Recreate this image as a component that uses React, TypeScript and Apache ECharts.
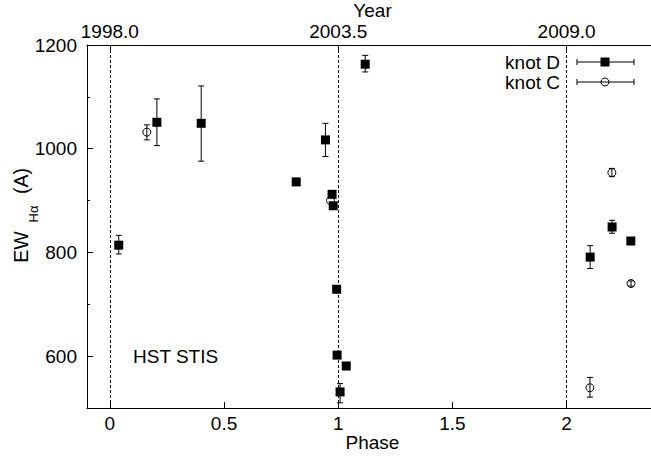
import React, { useEffect, useRef } from "react";
import * as echarts from "echarts";

// ---- Data ----
const knotDPhase = [0.039, 0.206, 0.4, 0.816, 0.944, 0.973, 0.978, 0.993, 0.995, 1.008, 1.035, 1.118, 2.103, 2.199, 2.281];
const knotDEW = [814, 1051, 1049, 936, 1017, 912, 890, 729, 602, 531, 581, 1163, 791, 849, 822];
const knotDLow: (number | null)[] = [797, 1006, 976, null, 985, null, null, null, null, 510, null, 1148, 769, 837, null];
const knotDHigh: (number | null)[] = [833, 1096, 1121, null, 1049, null, null, null, null, 547, null, 1180, 813, 862, null];

const knotCPhase = [0.162, 0.966, 2.102, 2.198, 2.282];
const knotCEW = [1032, 900, 539, 954, 740];
const knotCLow: (number | null)[] = [1017, null, 521, 946, 735];
const knotCHigh: (number | null)[] = [1046, null, 559, 962, 745];

const phaseTicks = [0, 0.5, 1, 1.5, 2];
const phaseTickLabels = ["0", "0.5", "1", "1.5", "2"];
const yearTicks = [0, 1, 2];
const yearTickLabels = ["1998.0", "2003.5", "2009.0"];
const ewMajorTicks = [600, 800, 1000, 1200];
const ewTickLabels = ["600", "800", "1000", "1200"];
const ewMinorTicks = [700, 900, 1100];
const epochLines = [0, 1, 2];

const FONT = "'Liberation Sans', Arial, Helvetica, sans-serif";
const FS = 19;

function errSeries(
  name: string,
  xs: number[],
  ys: number[],
  lo: (number | null)[],
  hi: (number | null)[],
  kind: "square" | "circle"
) {
  return {
    type: "custom",
    name,
    xAxisIndex: 0,
    yAxisIndex: 0,
    clip: false,
    data: xs.map((x, i) => [x, ys[i], lo[i] ?? ys[i], hi[i] ?? ys[i]]),
    renderItem: (params: any, api: any) => {
      const i = params.dataIndex;
      const x = api.value(0);
      const y = api.value(1);
      const c = api.coord([x, y]);
      const children: any[] = [];
      if (lo[i] != null && hi[i] != null) {
        const a = api.coord([x, lo[i]]);
        const b = api.coord([x, hi[i]]);
        const st = { stroke: "#000", lineWidth: 1 };
        children.push({ type: "line", shape: { x1: a[0], y1: a[1], x2: b[0], y2: b[1] }, style: st });
        children.push({ type: "line", shape: { x1: a[0] - 3, y1: a[1], x2: a[0] + 3, y2: a[1] }, style: st });
        children.push({ type: "line", shape: { x1: b[0] - 3, y1: b[1], x2: b[0] + 3, y2: b[1] }, style: st });
      }
      if (kind === "square") {
        children.push({ type: "rect", shape: { x: c[0] - 4.5, y: c[1] - 4.5, width: 9, height: 9 }, style: { fill: "#000" } });
      } else {
        children.push({ type: "circle", shape: { cx: c[0], cy: c[1], r: 4 }, style: { fill: "none", stroke: "#000", lineWidth: 1 } });
      }
      return { type: "group", children };
    },
  };
}

export default function App() {
  const ref = useRef<HTMLDivElement>(null);
  useEffect(() => {
    if (!ref.current) return;
    const chart = echarts.init(ref.current, null, { renderer: "svg" });
    const gridLeft = 87;
    const gridTop = 45;
    const gridW = 571;
    const gridH = 363;
    const txt = { fontFamily: FONT, fontSize: FS, color: "#000" };
    const legendX1 = 577;
    const legendX2 = 634;
    const legendMid = 605;
    const option: any = {
      animation: false,
      backgroundColor: "#fff",
      grid: {
        left: gridLeft,
        top: gridTop,
        width: gridW,
        height: gridH,
        containLabel: false,
        outerBoundsMode: "none",
      },
      xAxis: [
        {
          type: "value",
          position: "bottom",
          min: -0.1,
          max: 2.4,
          name: "Phase",
          nameLocation: "middle",
          nameMoveOverlap: false,
          nameGap: 25,
          nameTextStyle: txt,
          axisLine: { show: true, onZero: false, lineStyle: { color: "#000", width: 1 } },
          axisTick: { show: true, inside: true, length: 6, customValues: phaseTicks, lineStyle: { color: "#000" } },
          axisLabel: {
            show: true,
            margin: 6,
            customValues: phaseTicks,
            formatter: (v: number) => {
              const k = phaseTicks.findIndex((t) => Math.abs(t - v) < 1e-9);
              return k >= 0 ? phaseTickLabels[k] : "";
            },
            ...txt,
          },
          splitLine: { show: false },
        },
        {
          type: "value",
          position: "top",
          min: -0.1,
          max: 2.4,
          name: "Year",
          nameLocation: "middle",
          nameMoveOverlap: false,
          nameGap: 25,
          nameTextStyle: txt,
          axisLine: { show: true, onZero: false, lineStyle: { color: "#000", width: 1 } },
          axisTick: { show: true, inside: true, length: 6, customValues: yearTicks, lineStyle: { color: "#000" } },
          axisLabel: {
            show: true,
            margin: 4,
            customValues: yearTicks,
            formatter: (v: number) => {
              const k = yearTicks.findIndex((t) => Math.abs(t - v) < 1e-9);
              return k >= 0 ? yearTickLabels[k] : "";
            },
            ...txt,
          },
          splitLine: { show: false },
        },
      ],
      yAxis: [
        {
          type: "value",
          position: "left",
          min: 500,
          max: 1200,
          axisLine: { show: true, onZero: false, lineStyle: { color: "#000", width: 1 } },
          axisTick: { show: true, inside: true, length: 6, customValues: ewMajorTicks, lineStyle: { color: "#000" } },
          axisLabel: {
            show: true,
            margin: 10,
            customValues: ewMajorTicks,
            formatter: (v: number) => {
              const k = ewMajorTicks.indexOf(v);
              return k >= 0 ? ewTickLabels[k] : "";
            },
            ...txt,
          },
          splitLine: { show: false },
        },
        {
          type: "value",
          position: "left",
          offset: 0,
          min: 500,
          max: 1200,
          axisLine: { show: false, onZero: false },
          axisTick: { show: true, inside: true, length: 3, customValues: ewMinorTicks, lineStyle: { color: "#000" } },
          axisLabel: { show: false },
          splitLine: { show: false },
        },
      ],
      series: [
        {
          type: "line",
          data: [],
          xAxisIndex: 0,
          yAxisIndex: 0,
          markLine: {
            silent: true,
            symbol: ["none", "none"],
            label: { show: false },
            lineStyle: { color: "#000", width: 1, type: [3, 2] },
            data: epochLines.map((x) => ({ xAxis: x })),
          },
        },
        errSeries("knot D", knotDPhase, knotDEW, knotDLow, knotDHigh, "square"),
        errSeries("knot C", knotCPhase, knotCEW, knotCLow, knotCHigh, "circle"),
      ],
      graphic: [
        // y-axis title: EW_Hα (A), rotated
        { type: "text", x: 21, y: 247, rotation: Math.PI / 2, style: { text: "EW", fontFamily: FONT, fontSize: 19.5, fill: "#000", align: "center", verticalAlign: "middle" } },
        { type: "text", x: 33, y: 214, rotation: Math.PI / 2, style: { text: "Hα", fontFamily: FONT, fontSize: 13, fill: "#000", align: "center", verticalAlign: "middle" } },
        { type: "text", x: 21, y: 181, rotation: Math.PI / 2, style: { text: "(A)", fontFamily: FONT, fontSize: 19.5, fill: "#000", align: "center", verticalAlign: "middle" } },
        // annotation
        { type: "text", x: 133, y: 356, style: { text: "HST STIS", fontFamily: FONT, fontSize: FS, fill: "#000", align: "left", verticalAlign: "middle" } },
        // legend
        { type: "text", x: 560, y: 62, style: { text: "knot D", fontFamily: FONT, fontSize: FS, fill: "#000", align: "right", verticalAlign: "middle" } },
        { type: "text", x: 560, y: 82, style: { text: "knot C", fontFamily: FONT, fontSize: FS, fill: "#000", align: "right", verticalAlign: "middle" } },
        { type: "line", shape: { x1: legendX1, y1: 62, x2: legendX2, y2: 62 }, style: { stroke: "#000", lineWidth: 1 } },
        { type: "line", shape: { x1: legendX1, y1: 59, x2: legendX1, y2: 65 }, style: { stroke: "#000", lineWidth: 1 } },
        { type: "line", shape: { x1: legendX2, y1: 59, x2: legendX2, y2: 65 }, style: { stroke: "#000", lineWidth: 1 } },
        { type: "rect", shape: { x: legendMid - 4.5, y: 62 - 4.5, width: 9, height: 9 }, style: { fill: "#000" } },
        { type: "line", shape: { x1: legendX1, y1: 82, x2: legendX2, y2: 82 }, style: { stroke: "#000", lineWidth: 1 } },
        { type: "line", shape: { x1: legendX1, y1: 79, x2: legendX1, y2: 85 }, style: { stroke: "#000", lineWidth: 1 } },
        { type: "line", shape: { x1: legendX2, y1: 79, x2: legendX2, y2: 85 }, style: { stroke: "#000", lineWidth: 1 } },
        { type: "circle", shape: { cx: legendMid, cy: 82, r: 4 }, style: { fill: "none", stroke: "#000", lineWidth: 1 } },
      ],
    };
    chart.setOption(option);
    return () => chart.dispose();
  }, []);
  return (
    <div
      ref={ref}
      style={{ position: "fixed", left: 0, top: 0, width: 651, height: 457, background: "#fff" }}
    />
  );
}
